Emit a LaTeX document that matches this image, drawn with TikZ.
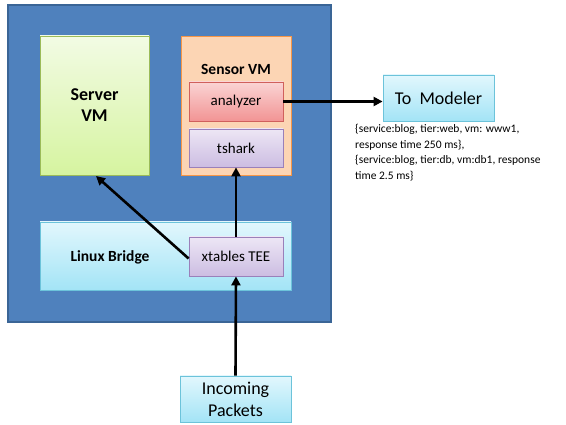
\documentclass[tikz,border=0pt]{standalone}
\usepackage{fontspec}
\setmainfont{Carlito}
\usetikzlibrary{arrows.meta}
\definecolor{outerfill}{HTML}{4F81BD}
\definecolor{outerdraw}{HTML}{3A6596}
\definecolor{greentop}{HTML}{F2FBE4}
\definecolor{greenbot}{HTML}{D6F4A0}
\definecolor{greendraw}{HTML}{9BBB59}
\definecolor{orangefill}{HTML}{FCD5B4}
\definecolor{orangedraw}{HTML}{F79646}
\definecolor{redtop}{HTML}{FAD4D4}
\definecolor{redbot}{HTML}{F29494}
\definecolor{reddraw}{HTML}{D0605C}
\definecolor{purptop}{HTML}{EDE6F5}
\definecolor{purpbot}{HTML}{CCBDE2}
\definecolor{purpdraw}{HTML}{9A80BA}
\definecolor{cyantop}{HTML}{E2F7FD}
\definecolor{cyanbot}{HTML}{A3E4F6}
\definecolor{cyandraw}{HTML}{6CC3DA}
\tikzset{
  x=1pt, y=-1pt,
  boxbase/.style={inner sep=0pt, line width=0.8pt, align=center},
  greenbox/.style={boxbase, draw=greendraw, top color=greentop, bottom color=greenbot},
  orangebox/.style={boxbase, draw=orangedraw, fill=orangefill},
  redbox/.style={boxbase, draw=reddraw, top color=redtop, bottom color=redbot},
  purpbox/.style={boxbase, draw=purpdraw, top color=purptop, bottom color=purpbot},
  cyanbox/.style={boxbase, draw=cyandraw, top color=cyantop, bottom color=cyanbot},
  flow/.style={line width=2.6pt, -{Triangle[length=9pt,width=9pt]}},
}
\begin{document}
\begin{tikzpicture}
\useasboundingbox (0,0) rectangle (566,425);
% outer host box
\node[boxbase, draw=outerdraw, fill=outerfill, line width=1.2pt, minimum width=323pt, minimum height=317pt] (host) at (169.5,163.5) {};
% server VM
\node[greenbox, minimum width=109pt, minimum height=139pt, font=\fontsize{18}{21}\selectfont\bfseries] (server) at (94.5,105.5) {Server\\VM};
% sensor VM
\node[orangebox, minimum width=110pt, minimum height=139pt] (sensor) at (236,105.5) {};
\node[font=\fontsize{15.5}{18}\selectfont\bfseries, inner sep=0pt] (sensorlbl) at (236,69) {Sensor VM};
\node[redbox, minimum width=94pt, minimum height=39pt, font=\fontsize{15}{18}\selectfont] (analyzer) at (236,101.5) {analyzer};
\node[purpbox, minimum width=94pt, minimum height=38pt, font=\fontsize{15}{18}\selectfont] (tshark) at (236,148) {tshark};
% linux bridge
\node[cyanbox, minimum width=251pt, minimum height=68pt] (bridge) at (165.5,256) {};
\node[font=\fontsize{15.5}{18}\selectfont\bfseries, inner sep=0pt] (bridgelbl) at (110,257) {Linux Bridge};
\node[purpbox, minimum width=94pt, minimum height=39pt, font=\fontsize{15}{18}\selectfont] (tee) at (236,256.5) {xtables TEE};
% outside
\node[cyanbox, minimum width=111pt, minimum height=46pt, font=\fontsize{18}{21}\selectfont] (modeler) at (438.5,98) {To\ \ Modeler};
\node[cyanbox, minimum width=111pt, minimum height=46pt, font=\fontsize{18}{22}\selectfont] (incoming) at (235.5,399) {Incoming\\Packets};
\node[anchor=north west, inner sep=0pt, align=left, font=\fontsize{11.5}{15.5}\selectfont] (info) at (355,124)
  {\{service:blog, tier:web, vm: www1,\\response time 250 ms\},\\\{service:blog, tier:db, vm:db1, response\\time 2.5 ms\}};
% connectors
\draw[flow] (incoming.north) -- (tee.south);
\draw[flow] (tee.north) -- (tshark.south);
\draw[flow] (tee.west) ++(0,2) coordinate (teeL) (teeL) -- (96,176);
\draw[flow] (analyzer.east) -- (modeler.west |- analyzer.east);
\end{tikzpicture}
\end{document}
